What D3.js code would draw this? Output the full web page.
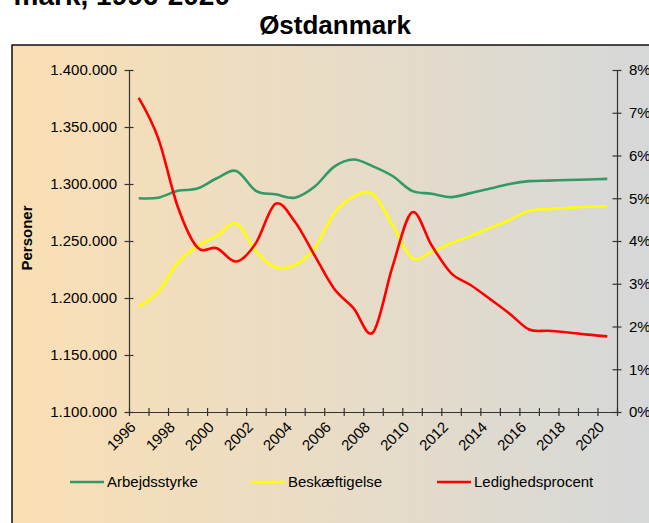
<!DOCTYPE html>
<html>
<head>
<meta charset="utf-8">
<script src="https://cdn.jsdelivr.net/npm/d3@7"></script>
<style>
  body { margin: 0; background: #fff; }
  svg { display: block; font-family: Arial, "Liberation Sans", sans-serif; }
  .domain, .tick line { stroke: #333; stroke-width: 1.2; }
</style>
</head>
<body>
<div id="plot"></div>
<script>
// data
var years = [1996,1997,1998,1999,2000,2001,2002,2003,2004,2005,2006,2007,2008,
             2009,2010,2011,2012,2013,2014,2015,2016,2017,2018,2019,2020];

var arbejdsstyrke = [1287500,1288000,1294000,1296000,1305000,1311500,1294000,1291000,1288000,
                     1297500,1315000,1321500,1315500,1307000,1294000,1291500,1288500,1292000,
                     1296000,1300000,1302500,1303000,1303500,1304000,1304500];

var beskaeftigelse = [1192500,1205500,1231000,1245500,1254500,1265500,1241000,1227000,1229000,
                      1243500,1274000,1289000,1291000,1264000,1235000,1240500,1248000,1254500,
                      1261500,1268500,1276500,1278000,1279000,1280000,1280500];

var ledighed = [7.35,6.4,4.8,3.85,3.83,3.52,3.95,4.87,4.45,3.67,2.89,2.43,1.86,
                3.4,4.67,3.9,3.25,2.97,2.64,2.3,1.93,1.9,1.86,1.81,1.77];

var leftTicks = [1100000,1150000,1200000,1250000,1300000,1350000,1400000];
var rightTicks = [0,1,2,3,4,5,6,7,8];
var labelYears = [1996,1998,2000,2002,2004,2006,2008,2010,2012,2014,2016,2018,2020];

var W = 649, H = 523;
var margin = {t:70, r:32, b:111, l:129};
var width = W - margin.l - margin.r,
    height = H - margin.t - margin.b;

var dk = d3.formatLocale({decimal:',', thousands:'.', grouping:[3], currency:['','']});

var svg = d3.select('#plot')
    .append('svg')
    .attr('width', W)
    .attr('height', H);

var grad = svg.append('defs').append('linearGradient')
    .attr('id','bg').attr('x1','0').attr('x2','1').attr('y1','0').attr('y2','0');
grad.append('stop').attr('offset','0').attr('stop-color','#fadfb4');
grad.append('stop').attr('offset','0.5').attr('stop-color','#e8dcc6');
grad.append('stop').attr('offset','1').attr('stop-color','#d5d8d9');

svg.append('rect')
    .attr('x',12).attr('y',45)
    .attr('width',650).attr('height',500)
    .attr('fill','url(#bg)')
    .attr('stroke','#111')
    .attr('stroke-width',1.5);

// titles
svg.append('text')
    .attr('x',230).attr('y',5)
    .attr('text-anchor','end')
    .style('font-size','28px').style('font-weight','bold')
    .text('mark, 1996-2020');

svg.append('text')
    .attr('x',335).attr('y',34)
    .attr('text-anchor','middle')
    .style('font-size','26px').style('font-weight','bold')
    .text('Østdanmark');

svg.append('text')
    .attr('transform','translate(32,238) rotate(-90)')
    .attr('text-anchor','middle')
    .style('font-size','15px').style('font-weight','bold')
    .text('Personer');

var plot = svg.append('g')
    .attr('transform','translate('+margin.l+','+margin.t+')');

var x = d3.scaleBand().domain(years).range([0,width]);
var xb = d3.scaleLinear().domain([0,years.length]).range([0,width]);
var y = d3.scaleLinear().domain([1100000,1400000]).range([height,0]);
var y2 = d3.scaleLinear().domain([0,8]).range([height,0]);

function cx(d,i){ return x(years[i]) + x.bandwidth()/2; }

// axes
var gy = plot.append('g')
    .call(d3.axisLeft(y).tickValues(leftTicks).tickFormat(dk.format(',d'))
        .tickSize(5).tickPadding(7).tickSizeOuter(0));
gy.selectAll('.tick line').attr('x1',4.5).attr('x2',-4.5);

var gy2 = plot.append('g')
    .attr('transform','translate('+width+',0)')
    .call(d3.axisRight(y2).tickValues(rightTicks).tickFormat(function(d){ return d+'%'; })
        .tickSize(5).tickPadding(7).tickSizeOuter(0));
gy2.selectAll('.tick line').attr('x1',-4.5).attr('x2',4.5);

var gx = plot.append('g')
    .attr('transform','translate(0,'+height+')')
    .call(d3.axisBottom(xb).tickValues(d3.range(years.length+1)).tickFormat('')
        .tickSize(4).tickSizeOuter(0));
gx.selectAll('.tick line').attr('y1',-4).attr('y2',4);

plot.selectAll('.tick text').style('font-size','15px').attr('fill','#000');

plot.selectAll('.xlabel')
    .data(labelYears)
    .enter()
    .append('text')
    .attr('class','xlabel')
    .attr('text-anchor','end')
    .attr('transform', function(d){
        return 'translate('+(x(d)+x.bandwidth()/2-2)+','+(height+16)+') rotate(-45)';
    })
    .style('font-size','15px')
    .text(function(d){ return d; });

// lines
var line1 = d3.line().x(cx).y(function(d){ return y(d); }).curve(d3.curveCardinal.tension(0));
var line2 = d3.line().x(cx).y(function(d){ return y2(d); }).curve(d3.curveCardinal.tension(0));

var series = [
    {name:'Arbejdsstyrke', values:arbejdsstyrke, color:'#339966', axis:1},
    {name:'Beskæftigelse', values:beskaeftigelse, color:'#ffff00', axis:1},
    {name:'Ledighedsprocent', values:ledighed, color:'#ff0000', axis:2}
];

plot.selectAll('.series')
    .data(series)
    .enter()
    .append('path')
    .attr('class','series')
    .attr('fill','none')
    .attr('stroke', function(d){ return d.color; })
    .attr('stroke-width',2.6)
    .attr('d', function(d){ return d.axis==1 ? line1(d.values) : line2(d.values); });

// legend
var legendX = [70, 251, 437];
var lg = svg.selectAll('.legend')
    .data(series)
    .enter()
    .append('g')
    .attr('class','legend')
    .attr('transform', function(d,i){ return 'translate('+legendX[i]+',482)'; });

lg.append('line')
    .attr('x1',0).attr('x2',34)
    .attr('stroke', function(d){ return d.color; })
    .attr('stroke-width',2.6);

lg.append('text')
    .attr('x',37).attr('y',5)
    .style('font-size','15px')
    .text(function(d){ return d.name; });
</script>
</body>
</html>
